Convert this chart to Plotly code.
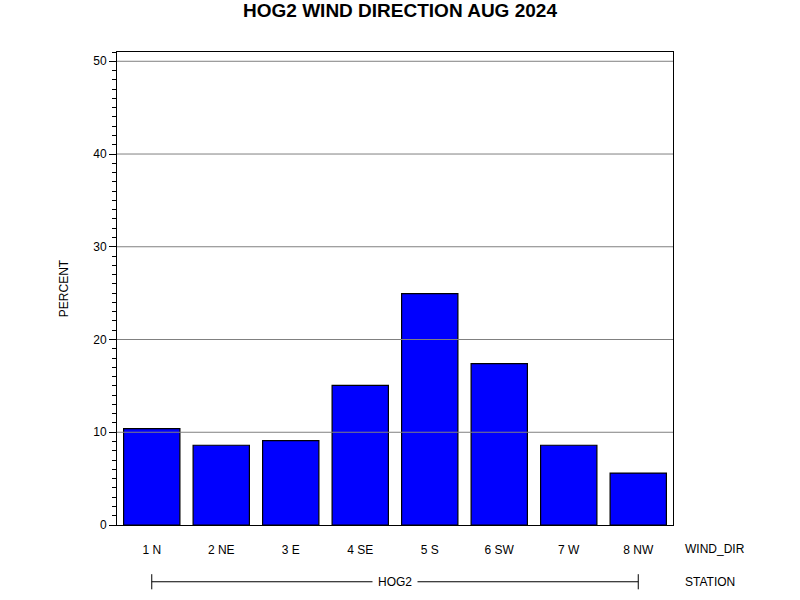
import plotly.graph_objects as go

# wind direction frequencies for HOG2, Aug 2024
wind_dir = ["1 N", "2 NE", "3 E", "4 SE", "5 S", "6 SW", "7 W", "8 NW"]
percent = [10.4, 8.6, 9.1, 15.05, 24.95, 17.4, 8.6, 5.6]
station = "HOG2"
y_ticks = [0, 10, 20, 30, 40, 50]

font = "Liberation Sans, Arial, sans-serif"

fig = go.Figure()
fig.add_trace(go.Bar(
    x=wind_dir, y=percent,
    marker=dict(color="#0000FF", line=dict(color="black", width=1.2)),
))

# grid lines are drawn over the bars in the original
for v in y_ticks[1:]:
    fig.add_shape(type="line", xref="paper", x0=0, x1=1, yref="y", y0=v, y1=v,
                  line=dict(color="#808080", width=1), layer="above")

# station bracket under the categories
fig.add_shape(type="line", xref="x", yref="paper", x0=wind_dir[0], x1=wind_dir[-1],
              y0=-0.12, y1=-0.12, line=dict(color="black", width=1))
for c in (wind_dir[0], wind_dir[-1]):
    fig.add_shape(type="line", xref="x", yref="paper", x0=c, x1=c,
                  y0=-0.104, y1=-0.136, line=dict(color="black", width=1))

fig.add_annotation(x=3.5, xref="x", y=-0.12, yref="paper", yanchor="middle", text=station,
                   showarrow=False, bgcolor="white", borderpad=5,
                   font=dict(size=12, color="black", family=font))
fig.add_annotation(x=1.0, xref="paper", xanchor="left", xshift=10, y=-0.051, yref="paper",
                   yanchor="middle", text="WIND_DIR", showarrow=False,
                   font=dict(size=12, color="black", family=font))
fig.add_annotation(x=1.0, xref="paper", xanchor="left", xshift=10, y=-0.12, yref="paper",
                   yanchor="middle", text="STATION", showarrow=False,
                   font=dict(size=12, color="black", family=font))

fig.update_layout(
    width=800, height=600,
    margin=dict(l=117, r=127, t=52, b=75),
    paper_bgcolor="white", plot_bgcolor="white",
    showlegend=False, bargap=0.19,
    font=dict(family=font, size=12, color="black"),
    title=dict(text="<b>HOG2 WIND DIRECTION AUG 2024</b>", x=0.5, xanchor="center",
               y=0.982, yanchor="middle", font=dict(size=19, family=font)),
)
fig.update_xaxes(
    type="category", range=[-0.5, 7.5], showline=True, linecolor="black", linewidth=1,
    mirror=True, ticks="", showgrid=False, ticklabelstandoff=14,
    tickfont=dict(size=12),
)
fig.update_yaxes(
    range=[0, 51], tickvals=y_ticks, showline=True, linecolor="black", linewidth=1,
    mirror=True, ticks="outside", ticklen=7, tickcolor="black", showgrid=False,
    zeroline=False,
    minor=dict(dtick=1, ticks="outside", ticklen=4, tickcolor="black", showgrid=False),
    title=dict(text="PERCENT", standoff=22, font=dict(size=12)),
    tickfont=dict(size=12),
)

fig.write_html("out.html", config={"displayModeBar": False},
               post_script="document.body.style.margin='0';")
